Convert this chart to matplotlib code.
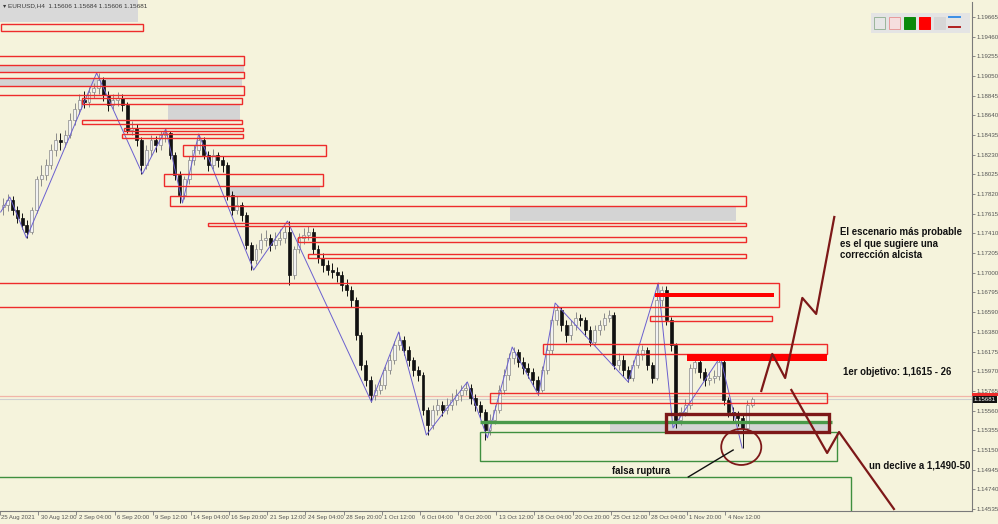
import matplotlib
matplotlib.use("Agg")
import matplotlib.pyplot as plt
from matplotlib.patches import Rectangle, Ellipse
from matplotlib.transforms import blended_transform_factory

# EURUSD H4 candles (each entry ~ 8h of the original chart)
first_open = 1.1768
closes = [1.1770, 1.1776, 1.1765, 1.1757, 1.1750, 1.1742, 1.1765, 1.1797, 1.1802, 1.1812,
          1.1828, 1.1838, 1.1836, 1.1843, 1.1859, 1.1870, 1.1880, 1.1878, 1.1888, 1.1892,
          1.1901, 1.1885, 1.1875, 1.1880, 1.1882, 1.1875, 1.1849, 1.1851, 1.1838, 1.1812,
          1.1828, 1.1838, 1.1833, 1.1843, 1.1845, 1.1823, 1.1802, 1.1781, 1.1797, 1.1817,
          1.1828, 1.1838, 1.1823, 1.1812, 1.1823, 1.1817, 1.1812, 1.1781, 1.1765, 1.1770,
          1.1760, 1.1729, 1.1713, 1.1724, 1.1734, 1.1736, 1.1729, 1.1734, 1.1736, 1.1742,
          1.1697, 1.1724, 1.1736, 1.1739, 1.1742, 1.1724, 1.1715, 1.1708, 1.1703, 1.1701,
          1.1697, 1.1687, 1.1682, 1.1671, 1.1635, 1.1604, 1.1588, 1.1572, 1.1578, 1.1583,
          1.1598, 1.1609, 1.1624, 1.1630, 1.1619, 1.1609, 1.1598, 1.1593, 1.1557, 1.1541,
          1.1557, 1.1562, 1.1557, 1.1562, 1.1567, 1.1572, 1.1578, 1.1580, 1.1569, 1.1562,
          1.1555, 1.1536, 1.1546, 1.1557, 1.1578, 1.1593, 1.1611, 1.1617, 1.1607, 1.1600,
          1.1596, 1.1588, 1.1578, 1.1598, 1.1619, 1.1650, 1.1661, 1.1645, 1.1635, 1.1645,
          1.1653, 1.1650, 1.1640, 1.1628, 1.1640, 1.1645, 1.1653, 1.1656, 1.1604, 1.1609,
          1.1598, 1.1590, 1.1604, 1.1614, 1.1619, 1.1604, 1.1590, 1.1671, 1.1682, 1.1650,
          1.1624, 1.1546, 1.1555, 1.1562, 1.1600, 1.1607, 1.1596, 1.1588, 1.1590, 1.1592,
          1.1607, 1.1567, 1.1555, 1.1551, 1.1548, 1.1538, 1.1562, 1.1568]
highs = [1.1778, 1.1782, 1.1780, 1.1769, 1.1762, 1.1755, 1.1768, 1.1801, 1.1812, 1.1818,
         1.1834, 1.1846, 1.1845, 1.1849, 1.1866, 1.1877, 1.1886, 1.1889, 1.1893, 1.1898,
         1.1908, 1.1904, 1.1889, 1.1886, 1.1888, 1.1886, 1.1878, 1.1858, 1.1855, 1.1841,
         1.1833, 1.1843, 1.1842, 1.1848, 1.1850, 1.1848, 1.1826, 1.1806, 1.1801, 1.1822,
         1.1833, 1.1844, 1.1841, 1.1827, 1.1829, 1.1826, 1.1822, 1.1815, 1.1785, 1.1780,
         1.1774, 1.1763, 1.1732, 1.1730, 1.1741, 1.1744, 1.1740, 1.1742, 1.1745, 1.1748,
         1.1754, 1.1728, 1.1741, 1.1746, 1.1749, 1.1746, 1.1729, 1.1720, 1.1713, 1.1710,
         1.1706, 1.1702, 1.1693, 1.1686, 1.1674, 1.1638, 1.1609, 1.1592, 1.1584, 1.1590,
         1.1603, 1.1615, 1.1629, 1.1638, 1.1634, 1.1623, 1.1612, 1.1603, 1.1596, 1.1560,
         1.1562, 1.1568, 1.1566, 1.1569, 1.1574, 1.1579, 1.1583, 1.1586, 1.1584, 1.1573,
         1.1566, 1.1558, 1.1552, 1.1562, 1.1583, 1.1599, 1.1616, 1.1622, 1.1620, 1.1612,
         1.1606, 1.1600, 1.1592, 1.1603, 1.1624, 1.1655, 1.1666, 1.1664, 1.1650, 1.1651,
         1.1659, 1.1657, 1.1654, 1.1644, 1.1645, 1.1651, 1.1658, 1.1661, 1.1659, 1.1616,
         1.1614, 1.1603, 1.1609, 1.1620, 1.1624, 1.1622, 1.1607, 1.1689, 1.1686, 1.1686,
         1.1654, 1.1627, 1.1560, 1.1568, 1.1605, 1.1612, 1.1610, 1.1600, 1.1596, 1.1598,
         1.1612, 1.1609, 1.1570, 1.1560, 1.1556, 1.1552, 1.1567, 1.1570]
lows = [1.1760, 1.1764, 1.1760, 1.1752, 1.1745, 1.1736, 1.1740, 1.1762, 1.1790, 1.1796,
        1.1808, 1.1822, 1.1828, 1.1831, 1.1840, 1.1854, 1.1865, 1.1872, 1.1873, 1.1882,
        1.1886, 1.1879, 1.1868, 1.1870, 1.1874, 1.1868, 1.1845, 1.1843, 1.1832, 1.1803,
        1.1808, 1.1822, 1.1826, 1.1828, 1.1836, 1.1818, 1.1796, 1.1773, 1.1777, 1.1792,
        1.1812, 1.1824, 1.1818, 1.1806, 1.1808, 1.1810, 1.1805, 1.1776, 1.1760, 1.1761,
        1.1754, 1.1724, 1.1703, 1.1709, 1.1720, 1.1728, 1.1722, 1.1725, 1.1729, 1.1731,
        1.1687, 1.1693, 1.1720, 1.1730, 1.1734, 1.1719, 1.1710, 1.1701, 1.1697, 1.1694,
        1.1690, 1.1681, 1.1676, 1.1664, 1.1630, 1.1598, 1.1582, 1.1565, 1.1567, 1.1573,
        1.1579, 1.1594, 1.1605, 1.1619, 1.1614, 1.1603, 1.1592, 1.1587, 1.1551, 1.1531,
        1.1537, 1.1551, 1.1550, 1.1552, 1.1557, 1.1562, 1.1566, 1.1572, 1.1563, 1.1556,
        1.1548, 1.1525, 1.1531, 1.1542, 1.1553, 1.1573, 1.1588, 1.1605, 1.1601, 1.1594,
        1.1590, 1.1582, 1.1572, 1.1575, 1.1594, 1.1615, 1.1645, 1.1639, 1.1628, 1.1630,
        1.1640, 1.1644, 1.1634, 1.1623, 1.1624, 1.1635, 1.1640, 1.1648, 1.1599, 1.1598,
        1.1592, 1.1586, 1.1587, 1.1600, 1.1609, 1.1598, 1.1585, 1.1588, 1.1665, 1.1645,
        1.1618, 1.1538, 1.1541, 1.1550, 1.1558, 1.1595, 1.1590, 1.1582, 1.1583, 1.1585,
        1.1588, 1.1562, 1.1549, 1.1545, 1.1540, 1.1517, 1.1535, 1.1560]
opens = [first_open] + closes[:-1]

# zigzag swing points (bar index, price)
zz_x = [0, 1.9, 5.4, 20.1, 29.7, 34.6, 38.1, 41.5, 53.0, 60.1, 77.7, 83.4, 89.2, 97.8,
        102.0, 107.2, 112.7, 116.2, 131.5, 137.8, 140.9, 150.8, 155.4]
zz_y = [1.17631, 1.17788, 1.17360, 1.19081, 1.18028, 1.18497, 1.17725, 1.18445, 1.17026,
        1.17537, 1.15650, 1.16380, 1.15306, 1.15859, 1.15275, 1.16223, 1.15723, 1.16682,
        1.15859, 1.16891, 1.15379, 1.16119, 1.15170]

# supply zones (red outlines)
red_x0 = [0, -1, -1, -1, 17.0, 17.0, 25.8, 25.5, 38.1, 34.3, 35.4, 43.4, 62.2, 64.5, -1, 136.1, 113.7, 102.6]
red_x1 = [29.9, 50.9, 50.9, 50.9, 50.5, 50.5, 50.7, 50.7, 68.1, 67.6, 156.2, 156.2, 156.2, 156.2, 163.1, 161.7, 173.2, 173.2]
red_hi = [1.19592, 1.19258, 1.19091, 1.18945, 1.18820, 1.18591, 1.18507, 1.18445, 1.18330, 1.18028,
          1.17798, 1.17517, 1.17371, 1.17194, 1.16891, 1.16547, 1.16255, 1.15744]
red_lo = [1.19519, 1.19164, 1.19029, 1.18851, 1.18758, 1.18549, 1.18476, 1.18403, 1.18215, 1.17903,
          1.17694, 1.17486, 1.17319, 1.17152, 1.16641, 1.16495, 1.16151, 1.15640]

grey_x0 = [-1, -1, 35.0, 47.5, 106.8, 127.7]
grey_x1 = [50.9, 50.5, 50.1, 67.0, 154.1, 173.8]
grey_hi = [1.19164, 1.19029, 1.18758, 1.17903, 1.17694, 1.15431]
grey_lo = [1.19091, 1.18945, 1.18591, 1.17798, 1.17538, 1.15337]

bar_x0 = [137.2, 143.9]
bar_x1 = [162.1, 173.2]
bar_hi = [1.16787, 1.16151]
bar_lo = [1.16745, 1.16078]

green_x0 = [100.5, -1]
green_x1 = [175.3, 178.2]
green_hi = [1.15337, 1.14868]
green_lo = [1.15035, 1.14300]
green_line = (100.5, 174.2, 1.15441)

box_dark = (139.5, 173.6, 1.15337, 1.15525)

# scenario arrows
up_x = [159.4, 161.7, 164.4, 168.0, 170.9, 174.7]
up_y = [1.15765, 1.16151, 1.15900, 1.16735, 1.16568, 1.17579]
down_x = [165.7, 173.2, 175.7, 187.2]
down_y = [1.15775, 1.15118, 1.15337, 1.14534]

yticks = [1.19665, 1.19460, 1.19255, 1.19050, 1.18845, 1.18640, 1.18435, 1.18230, 1.18025,
          1.17820, 1.17615, 1.17410, 1.17205, 1.17000, 1.16795, 1.16590, 1.16380, 1.16175,
          1.15970, 1.15765, 1.15560, 1.15355, 1.15150, 1.14945, 1.14740, 1.14535]
xlabels = ["30 Aug 12:00", "2 Sep 04:00", "6 Sep 20:00", "9 Sep 12:00", "14 Sep 04:00",
           "16 Sep 20:00", "21 Sep 12:00", "24 Sep 04:00", "28 Sep 20:00", "1 Oct 12:00",
           "6 Oct 04:00", "8 Oct 20:00", "13 Oct 12:00", "18 Oct 04:00", "20 Oct 20:00",
           "25 Oct 12:00", "28 Oct 04:00", "1 Nov 20:00", "4 Nov 12:00"]
xtick_pos = [7.85 + 8 * k for k in range(len(xlabels))]

last_price = 1.15681
ask_price = 1.15712

bg = "#f5f3dc"
red = "#ee2b2b"
green = "#3f8f3f"
maroon = "#7d1818"
small = ["Liberation Sans", "DejaVu Sans"]

fig = plt.figure(figsize=(9.98, 5.24), dpi=100, facecolor=bg)
ax = fig.add_axes([0, 13 / 524, 972 / 998, 509 / 524], facecolor=bg)
ax.set_xlim(0, 203.56)
ax.set_ylim(1.14513, 1.19821)

# zones
for x0, x1, lo, hi in zip(grey_x0, grey_x1, grey_lo, grey_hi):
    ax.add_patch(Rectangle((x0, lo), x1 - x0, hi - lo, facecolor="#d4d4d4", edgecolor="none", zorder=1))

# candles
for i in range(len(closes)):
    o, c, h, l = opens[i], closes[i], highs[i], lows[i]
    bull = c >= o
    col = "#8a8a8a" if bull else "#111111"
    ax.vlines(i + 0.5, l, h, color=col, lw=0.7, zorder=2)
    ax.add_patch(Rectangle((i + 0.5 - 0.31, min(o, c)), 0.62, max(abs(c - o), 0.00003),
                           facecolor="#f2f2f2" if bull else "#111111",
                           edgecolor=col, lw=0.5, zorder=2.1))

ax.plot(zz_x, zz_y, color="#6a5fcf", lw=0.7, zorder=2.5)

for x0, x1, lo, hi in zip(red_x0, red_x1, red_lo, red_hi):
    ax.add_patch(Rectangle((x0, lo), x1 - x0, hi - lo, facecolor="none", edgecolor=red, lw=1.0, zorder=3))
for x0, x1, lo, hi in zip(bar_x0, bar_x1, bar_lo, bar_hi):
    ax.add_patch(Rectangle((x0, lo), x1 - x0, hi - lo, facecolor="#ff0000", edgecolor="none", zorder=3))
for x0, x1, lo, hi in zip(green_x0, green_x1, green_lo, green_hi):
    ax.add_patch(Rectangle((x0, lo), x1 - x0, hi - lo, facecolor="none", edgecolor=green, lw=1.0, zorder=3))
ax.hlines(green_line[2], green_line[0], green_line[1], color="#4a9a4a", lw=2.4, zorder=3)
ax.add_patch(Rectangle((box_dark[0], box_dark[2]), box_dark[1] - box_dark[0], box_dark[3] - box_dark[2],
                       facecolor="none", edgecolor=maroon, lw=2.4, zorder=4))

# price lines
ax.axhline(ask_price, color="#f2b4a8", lw=0.9, zorder=1.5)
ax.axhline(last_price, color="#cfcfcf", lw=0.8, zorder=1.5)

# scenarios
ax.plot(up_x, up_y, color=maroon, lw=1.6, zorder=5)
ax.plot(down_x, down_y, color=maroon, lw=1.6, zorder=5)
ax.add_patch(Ellipse((155.2, 1.15181), 8.4, 0.00376, facecolor="none", edgecolor=maroon, lw=1.3, zorder=5))
ax.plot([144.1, 153.5], [1.14868, 1.15149], color="#111111", lw=1.0, zorder=5)

txt = dict(family=["Liberation Sans", "DejaVu Sans"], weight="bold", fontsize=6.9, color="#111111", zorder=6)
ax.text(175.9, 1.17470, "El escenario más probable\nes el que sugiere una\ncorrección alcista",
        va="top", ha="left", linespacing=1.15, **txt)
ax.text(176.5, 1.15963, "1er objetivo: 1,1615 - 26", va="center", ha="left", **txt)
ax.text(182.0, 1.14983, "un declive a 1,1490-50", va="center", ha="left", **txt)
ax.text(128.2, 1.14931, "falsa ruptura", va="center", ha="left", **txt)

# axes styling
for s in ["left", "top"]:
    ax.spines[s].set_visible(False)
for s in ["right", "bottom"]:
    ax.spines[s].set_color("#7a7a7a")
    ax.spines[s].set_linewidth(0.8)
ax.yaxis.tick_right()
ax.set_yticks(yticks)
ax.set_yticklabels(["%.5f" % v for v in yticks], fontsize=4.4, color="#555555", family=small)
ax.tick_params(axis="y", length=2.5, width=0.6, color="#7a7a7a", pad=1)
ax.set_xticks([-0.15] + xtick_pos)
ax.set_xticklabels([])
ax.tick_params(axis="x", length=3, width=0.6, color="#7a7a7a", direction="out")
tr = blended_transform_factory(ax.transData, ax.transAxes)
ax.text(0.05, -0.007, "25 Aug 2021", transform=tr, va="top", ha="left", fontsize=4.3, color="#555555", family=small)
for xp, lab in zip(xtick_pos, xlabels):
    ax.text(xp + 0.5, -0.007, lab, transform=tr, va="top", ha="left", fontsize=4.3, color="#555555", family=small)

# price tags on the scale
ty = blended_transform_factory(ax.transAxes, ax.transData)
ax.add_patch(Rectangle((1.0, ask_price - 0.00003), 0.027, 0.00032, transform=ty, facecolor="#ee2b2b",
                       edgecolor="none", clip_on=False, zorder=6))
ax.text(1.002, last_price - 0.00004, "%.5f" % last_price, transform=ty, va="center", ha="left", fontsize=4.4,
        color="white", family=small, bbox=dict(boxstyle="square,pad=0.2", fc="#111111", ec="none"),
        clip_on=False, zorder=7)

# header box and toolbar
fig.add_artist(Rectangle((0, 1 - 22 / 524), 138 / 998, 22 / 524, transform=fig.transFigure,
                         facecolor="#d9d9d9", edgecolor="none", zorder=10))
fig.text(3 / 998, 1 - 6 / 524, "▾ EURUSD,H4  1.15606 1.15684 1.15606 1.15681", fontsize=4.6,
         color="#3a3a3a", va="center", ha="left", family=small, zorder=11)
fig.add_artist(Rectangle((871 / 998, 1 - 33 / 524), 99 / 998, 20 / 524, transform=fig.transFigure,
                         facecolor="#e4e4e4", edgecolor="none", zorder=10))
tool_fc = ["#e6e6e6", "#f6dede", "#0a8a0a", "#ff0000", "#d6d6d6"]
tool_ec = ["#9ab59a", "#e79a9a", "#0a8a0a", "#ff0000", "#d6d6d6"]
tool_x = [874, 889, 904, 919, 934]
for xp, fc, ec in zip(tool_x, tool_fc, tool_ec):
    fig.add_artist(Rectangle((xp / 998, 1 - 29 / 524), 11 / 998, 12 / 524, transform=fig.transFigure,
                             facecolor=fc, edgecolor=ec, lw=0.7, zorder=11))
fig.add_artist(plt.Line2D([949 / 998, 960 / 998], [1 - 17 / 524] * 2, color="#3a8ee6", lw=1.4, zorder=11))
fig.add_artist(plt.Line2D([949 / 998, 960 / 998], [1 - 27 / 524] * 2, color="#b02020", lw=1.4, zorder=11))

fig.savefig("out.png", dpi=100, facecolor=bg)
